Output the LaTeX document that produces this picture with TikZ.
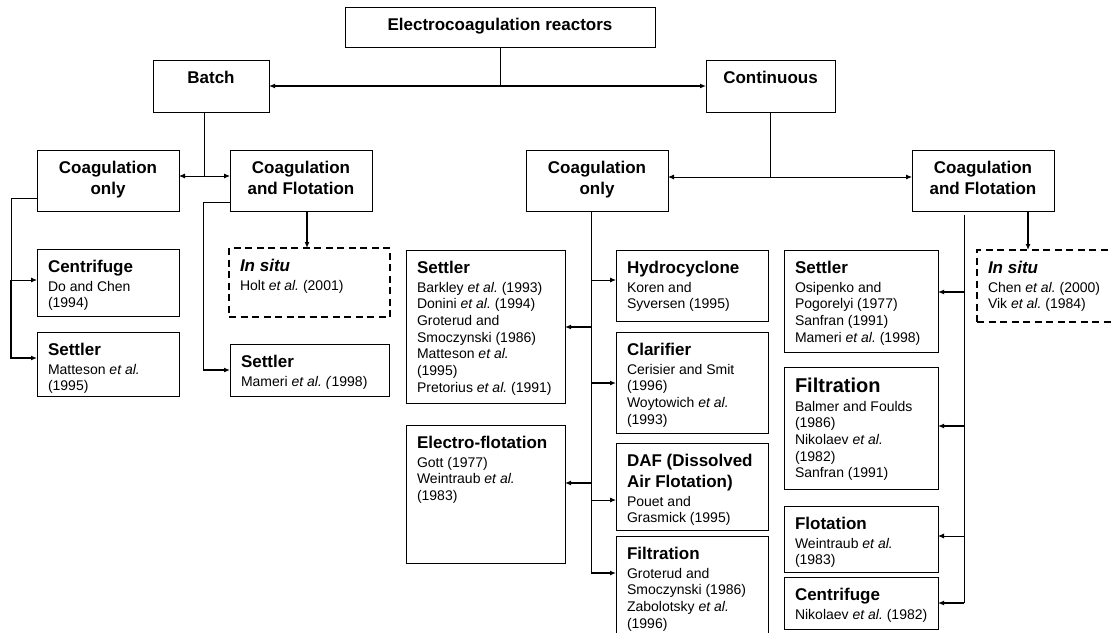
\documentclass[tikz,border=0pt]{standalone}
\usepackage{fontspec}
\setmainfont{Liberation Sans}
\usetikzlibrary{arrows.meta,calc}
\frenchspacing
\newcommand\lbx[3]{\parbox[c][#2pt][t]{\dimexpr#1pt-22pt\relax}{\frenchspacing\raggedright\fontsize{14}{16.7}\selectfont #3}}
\newcommand\cbx[3]{\parbox[c][#2pt][t]{\dimexpr#1pt-22pt\relax}{\centering\fontsize{17}{21}\selectfont\bfseries\rule{0pt}{23pt}#3\par}}
\newcommand\ttl[1]{{\fontsize{17}{21}\selectfont\bfseries\rule{0pt}{23pt}#1\par}\vspace{2.3pt}}
\newcommand\ttlbig[1]{{\fontsize{20}{24}\selectfont\bfseries\rule{0pt}{25pt}#1\par}\vspace{2.3pt}}
\begin{document}
\begin{tikzpicture}[x=1pt,y=-1pt,>={Latex[length=6pt,width=5pt]},
  box/.style={draw, line width=0.9pt, anchor=north west, inner xsep=11pt, inner ysep=0pt, outer sep=0pt},
  dbox/.style={box, line width=2.4pt, dash pattern=on 7pt off 4.5pt},
  thinline/.style={line width=0.9pt},
  thickline/.style={line width=2pt}]
\useasboundingbox (0,0) rectangle (1111,632);
\clip (0,0) rectangle (1111,632);

% ---- nodes ----
\node[box] (top) at (345,7) {\cbx{310}{40}{Electrocoagulation reactors}};
\node[box] (batch) at (153,60) {\cbx{116}{52}{Batch}};
\node[box] (cont) at (706,60) {\cbx{129}{52}{Continuous}};

\node[box] (cob1) at (37,150) {\cbx{142}{61}{Coagulation\\only}};
\node[box] (cfb1) at (230,150) {\cbx{142}{61}{Coagulation\\and Flotation}};
\node[box] (cen1) at (37,249) {\lbx{142}{67}{\ttl{Centrifuge}Do and Chen\\(1994)}};
\node[box] (set1) at (37,332) {\lbx{142}{64}{\ttl{Settler}Matteson \textit{et al.}\\(1995)}};
\node[dbox] (ins1) at (229,248) {\lbx{161}{69}{\ttl{\textit{In situ}}Holt \textit{et al.} (2001)}};
\node[box] (set2) at (230,344) {\lbx{159}{52}{\ttl{Settler}Mameri \textit{et al. (}1998)}};

\node[box] (co2) at (526,150) {\cbx{142}{61}{Coagulation\\only}};
\node[box] (cf2) at (912,150) {\cbx{142}{61}{Coagulation\\and Flotation}};
\node[box] (set3) at (406,250) {\lbx{159}{153}{\ttl{Settler}Barkley \textit{et al.} (1993)\\Donini \textit{et al.} (1994)\\Groterud and\\Smoczynski (1986)\\Matteson \textit{et al.}\\(1995)\\Pretorius \textit{et al.} (1991)}};
\node[box] (hyd) at (616,250) {\lbx{152}{71}{\ttl{Hydrocyclone}Koren and\\Syversen (1995)}};
\node[box] (cla) at (616,332) {\lbx{152}{101}{\ttl{Clarifier}Cerisier and Smit\\(1996)\\Woytowich \textit{et al.}\\(1993)}};
\node[box] (ef) at (406,425) {\lbx{159}{138}{\ttl{Electro-flotation}Gott (1977)\\Weintraub \textit{et al.}\\(1983)}};
\node[box] (daf) at (616,443) {\lbx{152}{87}{\ttl{DAF (Dissolved\\Air Flotation)}Pouet and\\Grasmick (1995)}};
\node[box] (fil2) at (616,536) {\lbx{152}{110}{\ttl{Filtration}Groterud and\\Smoczynski (1986)\\Zabolotsky \textit{et al.}\\(1996)}};

\node[box] (set4) at (784,250) {\lbx{154}{102}{\ttl{Settler}Osipenko and\\Pogorelyi (1977)\\Sanfran (1991)\\Mameri \textit{et al.} (1998)}};
\node[dbox] (ins2) at (977,250) {\lbx{150}{72}{\ttl{\textit{In situ}}Chen \textit{et al.} (2000)\\Vik \textit{et al.} (1984)}};
\node[box] (fil3) at (784,367) {\lbx{154}{122}{\ttlbig{Filtration}Balmer and Foulds\\(1986)\\Nikolaev \textit{et al.}\\(1982)\\Sanfran (1991)}};
\node[box] (flo) at (784,506) {\lbx{154}{66}{\ttl{Flotation}Weintraub \textit{et al.}\\(1983)}};
\node[box] (cen2) at (784,577) {\lbx{154}{52}{\ttl{Centrifuge}\mbox{Nikolaev \textit{et al.} (1982)}}};

% ---- connectors: top ----
\draw[thinline] (top.south) -- (top.south |- batch.east);
\draw[thickline,<->] (batch.east) -- (cont.west);

% ---- batch ----
\coordinate (bj) at (204,176);
\draw[thinline] (batch.south -| bj) -- (bj);
\draw[thinline,<->] (cob1.east |- bj) -- (cfb1.west |- bj);

\coordinate (lj) at (11,198);
\coordinate (cen1a) at ($(cen1.north west)+(0,31)$);
\coordinate (set1a) at ($(set1.north west)+(0,26)$);
\draw[thinline] (cob1.west |- lj) -- (lj) -- (lj |- cen1a);
\draw[thinline,->] (lj |- cen1a) -- (cen1a);
\draw[thickline,->] (lj |- cen1a) -- (lj |- set1a) -- (set1a);

\coordinate (mj) at (203,202);
\draw[thinline] (cfb1.west |- mj) -- (mj) -- (mj |- set2.west);
\draw[thickline,->] (mj |- set2.west) -- (set2.west);

\coordinate (ia) at (307,0);
\draw[thickline,->] (cfb1.south -| ia) -- (ins1.north -| ia);

% ---- continuous ----
\coordinate (cj) at (771,177);
\draw[thinline] (cont.south) -- (cont.south |- cj);
\draw[thinline,<->] (co2.east |- cj) -- (cf2.west |- cj);

\coordinate (vm) at (591,0);
\coordinate (hyda) at ($(hyd.north west)+(0,30)$);
\coordinate (set3a) at ($(set3.north east)+(0,77)$);
\coordinate (claa) at ($(cla.north west)+(0,51)$);
\coordinate (efa) at ($(ef.north east)+(0,58)$);
\coordinate (dafa) at ($(daf.north west)+(0,57)$);
\coordinate (fil2a) at ($(fil2.north west)+(0,37)$);
\draw[thinline] (co2.south -| vm) -- (vm |- fil2a);
\draw[thinline,->] (vm |- hyda) -- (hyda);
\draw[thickline,->] (vm |- set3a) -- (set3a);
\draw[thickline,->] (vm |- claa) -- (claa);
\draw[thickline,->] (vm |- efa) -- (efa);
\draw[thinline,->] (vm |- dafa) -- (dafa);
\draw[thickline,->] (vm |- fil2a) -- (fil2a);

\coordinate (vr) at (964,0);
\coordinate (set4a) at ($(set4.north east)+(0,42)$);
\coordinate (fil3a) at ($(fil3.north east)+(0,59)$);
\coordinate (floa) at ($(flo.north east)+(0,30)$);
\draw[thinline] ($(cf2.south -| vr)+(0,4)$) -- (vr |- cen2.east);
\draw[thickline,->] (vr |- set4a) -- (set4a);
\draw[thickline,->] (vr |- fil3a) -- (fil3a);
\draw[thinline,->] (vr |- floa) -- (floa);
\draw[thickline,->] (vr |- cen2.east) -- (cen2.east);

\coordinate (ib) at (1028,0);
\draw[thickline,->] (cf2.south -| ib) -- (ins2.north -| ib);
\end{tikzpicture}
\end{document}
